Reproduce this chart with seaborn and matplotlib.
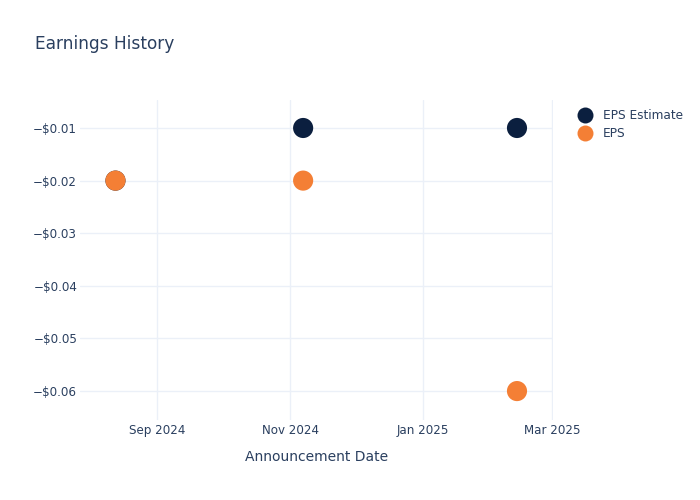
import pandas as pd
import matplotlib
matplotlib.use("Agg")
import matplotlib.pyplot as plt
import matplotlib.dates as mdates
from matplotlib.ticker import FuncFormatter
from matplotlib.lines import Line2D
import seaborn as sns

# data
dates = ["2024-08-13", "2024-11-07", "2025-02-13"]
eps_estimate = [-0.02, -0.01, -0.01]
eps_actual = [-0.02, -0.02, -0.06]
series_names = ["EPS Estimate", "EPS"]
series_colors = ["#0b1f3f", "#f47f35"]

df = pd.DataFrame({
    "date": pd.to_datetime(dates * 2),
    "value": eps_estimate + eps_actual,
    "series": [series_names[0]] * 3 + [series_names[1]] * 3,
})

sns.set_style("white")
plt.rcParams["font.family"] = ["DejaVu Sans"]
text_color = "#2a3f5f"
grid_color = "#ebf0f8"

fig = plt.figure(figsize=(7, 5), dpi=100)
ax = fig.add_axes([80 / 700, 80 / 500, 473 / 700, 320 / 500])

sns.scatterplot(data=df, x="date", y="value", hue="series",
                hue_order=series_names, palette=series_colors,
                s=210, linewidth=0, ax=ax, legend=False, zorder=3)

ax.set_xlim(pd.Timestamp("2024-07-27 18:00"), pd.Timestamp("2025-03-01 12:00"))
ax.set_ylim(-0.0655, -0.00468)
ax.set_yticks([-0.06, -0.05, -0.04, -0.03, -0.02, -0.01])
ax.yaxis.set_major_formatter(FuncFormatter(lambda v, p: "\u2212$%.2f" % abs(v)))
ax.xaxis.set_major_locator(mdates.MonthLocator(bymonth=[1, 3, 5, 7, 9, 11]))
ax.xaxis.set_major_formatter(mdates.DateFormatter("%b %Y"))

ax.grid(True, color=grid_color, linewidth=1)
for s in ax.spines.values():
    s.set_visible(False)
ax.tick_params(length=0, labelsize=8.6, labelcolor=text_color)
ax.tick_params(axis="y", pad=2)
ax.tick_params(axis="x", pad=3)
ax.set_xlabel("Announcement Date", fontsize=10, color=text_color, labelpad=9)
ax.set_ylabel("")

fig.text(35 / 700, 1 - 44 / 500, "Earnings History", fontsize=12.25,
         color=text_color, va="center", ha="left")

handles = [Line2D([], [], marker="o", linestyle="", markersize=11.5,
                  markerfacecolor=c, markeredgewidth=0) for c in series_colors]
fig.legend(handles, series_names, loc="upper left",
           bbox_to_anchor=(573 / 700, 1 - 104 / 500), frameon=False,
           fontsize=8.7, labelcolor=text_color, handletextpad=0.9,
           labelspacing=0.45, handlelength=1.2, borderaxespad=0)

fig.savefig("out.png", dpi=100)
